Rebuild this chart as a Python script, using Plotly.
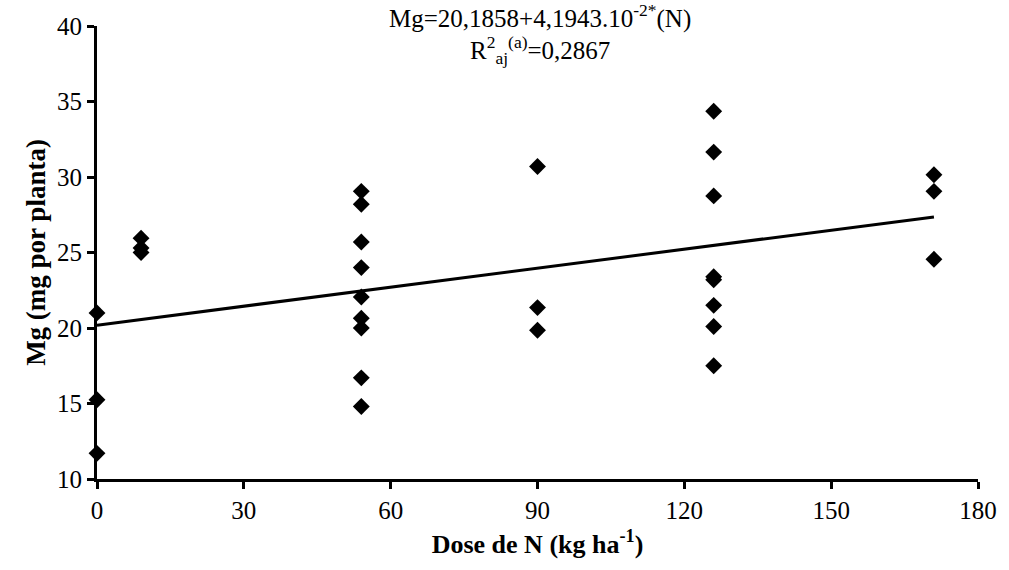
import plotly.graph_objects as go

# Data
dose = [0, 0, 0,
        9, 9, 9,
        54, 54, 54, 54, 54, 54, 54, 54, 54,
        90, 90, 90,
        126, 126, 126, 126, 126, 126, 126, 126,
        171, 171, 171]
mg = [21.0, 15.25, 11.7,
      25.95, 25.3, 25.0,
      29.05, 28.2, 25.7, 24.0, 22.05, 20.65, 20.0, 16.7, 14.8,
      30.7, 21.35, 19.85,
      34.35, 31.65, 28.75, 23.4, 23.2, 21.5, 20.1, 17.5,
      30.15, 29.05, 24.55]

intercept = 20.1858
slope = 4.1943e-2
fit_x = [0, 171]
fit_y = [intercept + slope * v for v in fit_x]

x_ticks = [0, 30, 60, 90, 120, 150, 180]
y_ticks = [10, 15, 20, 25, 30, 35, 40]

FONT = "Liberation Serif"

fig = go.Figure()
fig.add_trace(go.Scatter(x=fit_x, y=fit_y, mode="lines",
                         line=dict(color="black", width=3),
                         showlegend=False, hoverinfo="skip"))
fig.add_trace(go.Scatter(x=dose, y=mg, mode="markers",
                         marker=dict(symbol="diamond", size=13, color="black"),
                         cliponaxis=False, showlegend=False))

fig.update_layout(
    width=1009, height=570,
    paper_bgcolor="white", plot_bgcolor="white",
    margin=dict(l=97, r=26, t=26, b=91),
    font=dict(family=FONT, color="black", size=25),
    xaxis=dict(range=[0, 180], tickvals=x_ticks, showgrid=False, zeroline=False,
               showline=True, linecolor="black", linewidth=3,
               ticks="outside", ticklen=7, tickwidth=3, tickcolor="black",
               tickfont=dict(family=FONT, size=25),
               title=dict(text="<b>Dose de N (kg ha<sup>-1</sup>)</b>",
                          font=dict(family=FONT, size=26), standoff=12)),
    yaxis=dict(range=[10, 40], tickvals=y_ticks, showgrid=False, zeroline=False,
               showline=True, linecolor="black", linewidth=3,
               ticks="outside", ticklen=7, tickwidth=3, tickcolor="black",
               tickfont=dict(family=FONT, size=25),
               title=dict(text="<b>Mg (mg por planta)</b>",
                          font=dict(family=FONT, size=27), standoff=4)),
    annotations=[
        dict(text="Mg=20,1858+4,1943.10<sup>-2*</sup>(N)", xref="paper", yref="paper",
             x=0.503, y=1.022, xanchor="center", yanchor="middle", showarrow=False,
             font=dict(family=FONT, size=25)),
        dict(text="R<sup>2</sup><sub>aj</sub><sup>(a)</sup>=0,2867", xref="paper", yref="paper",
             x=0.503, y=0.948, xanchor="center", yanchor="middle", showarrow=False,
             font=dict(family=FONT, size=25)),
    ],
)

fig.write_html("out.html")
